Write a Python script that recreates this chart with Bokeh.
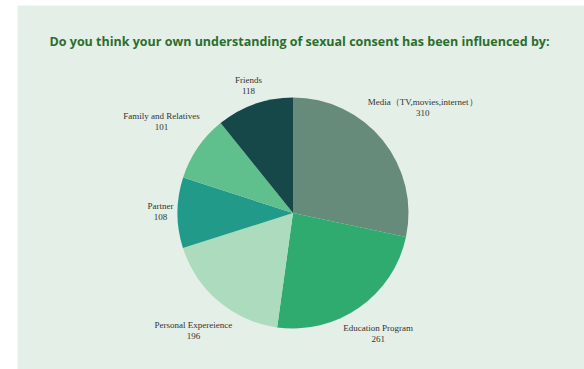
import math
from bokeh.plotting import figure
from bokeh.models import Range1d, ColumnDataSource
from bokeh.core.properties import value
from bokeh.embed import file_html
from bokeh.resources import INLINE

title_text = "Do you think your own understanding of sexual consent has been influenced by:"
categories = ["Media\uff08TV,movies,internet\uff09", "Education Program", "Personal Expereience",
              "Partner", "Family and Relatives", "Friends"]
counts = [310, 261, 196, 108, 101, 118]
colors = ["#678b7b", "#30ab70", "#acdbbd", "#229a89", "#5fc08e", "#174849"]

R = 115.5
total = sum(counts)
starts, ends, lx, ly, names, vals = [], [], [], [], [], []
cum = 0.0
char_w = 4.3
half_h = 12.0
gap = 2.0
for c, v in zip(categories, counts):
    a0 = cum / total * 2 * math.pi
    cum += v
    a1 = cum / total * 2 * math.pi
    starts.append(math.pi / 2 - a0)
    ends.append(math.pi / 2 - a1)
    mid = (a0 + a1) / 2
    hw = len(c) * char_w / 2
    d = R + gap + abs(hw * math.sin(mid)) + abs(half_h * math.cos(mid))
    lx.append(d * math.sin(mid))
    ly.append(d * math.cos(mid))
    names.append(c)
    vals.append(str(v))

src = ColumnDataSource(dict(start=starts, end=ends, color=colors,
                            lx=lx, ly=ly, name=names, val=vals))

p = figure(width=584, height=369, output_backend="svg", toolbar_location=None,
           x_axis_type=None, y_axis_type=None,
           x_range=Range1d(-275.5, 291.5), y_range=Range1d(-156.5, 207.5),
           min_border_left=17, min_border_top=5, min_border_right=0, min_border_bottom=0,
           background_fill_color="#e4efe8", border_fill_color="#ffffff",
           outline_line_color=None)
p.grid.visible = False

p.wedge(x=0, y=0, radius=R, start_angle="start", end_angle="end", direction="clock",
        fill_color="color", line_color=None, source=src)

p.text(x="lx", y="ly", text="name", source=src, text_align="center", text_baseline="bottom",
       y_offset=-1.5, text_font=value("Liberation Serif"), text_font_size="9px", text_color="#333333")
p.text(x="lx", y="ly", text="val", source=src, text_align="center", text_baseline="top",
       y_offset=1.5, text_font=value("Liberation Serif"), text_font_size="9px", text_color="#333333")

p.text(x=[6.5], y=[172], text=[title_text], text_align="center", text_baseline="middle",
       text_font=value("Open Sans"), text_font_style="bold", text_font_size="12.5px",
       text_color="#2a6e2c")

open("out.html", "w").write(file_html(p, INLINE))
